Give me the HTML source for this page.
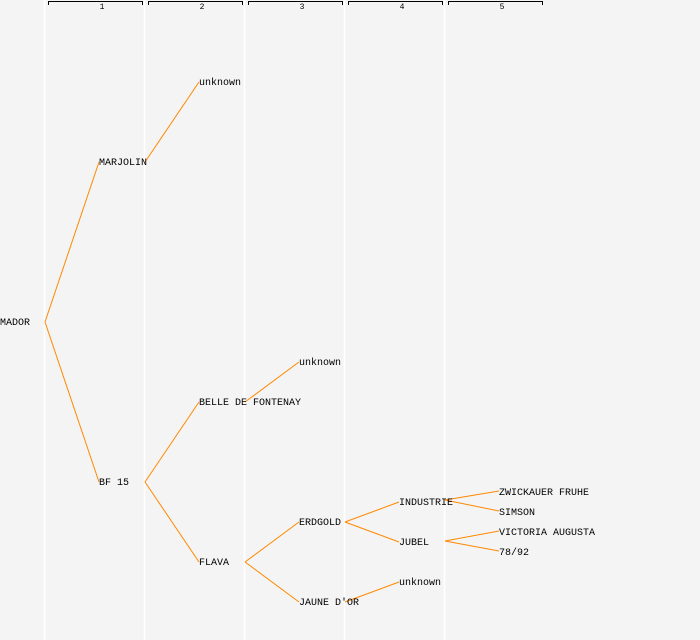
<!DOCTYPE html>
<html><head><style>html,body{margin:0;padding:0;background:#f4f4f4;}svg{display:block}</style></head>
<body>
<svg width="700" height="640" xmlns="http://www.w3.org/2000/svg" font-family="Liberation Mono, monospace" font-size="10">
<rect width="700" height="640" fill="#f4f4f4"/>
<g stroke="#ffffff" stroke-width="1.5">
<line x1="44.5" y1="0" x2="44.5" y2="640"/>
<line x1="144.5" y1="0" x2="144.5" y2="640"/>
<line x1="244.5" y1="0" x2="244.5" y2="640"/>
<line x1="344.5" y1="0" x2="344.5" y2="640"/>
<line x1="444.5" y1="0" x2="444.5" y2="640"/>
</g>
<g stroke="#000" fill="none" stroke-width="1">
<path d="M48.5,5 V1.5 H142.5 V5"/>
<path d="M148.5,5 V1.5 H242.5 V5"/>
<path d="M248.5,5 V1.5 H342.5 V5"/>
<path d="M348.5,5 V1.5 H442.5 V5"/>
<path d="M448.5,5 V1.5 H542.5 V5"/>
</g>
<g font-size="8" text-anchor="middle" fill="#000">
<text x="102" y="9">1</text><text x="202" y="9">2</text><text x="302" y="9">3</text><text x="402" y="9">4</text><text x="502" y="9">5</text>
</g>
<g stroke="#ff8800" stroke-width="1" fill="none">
<line x1="45" y1="322" x2="99" y2="162"/>
<line x1="45" y1="322" x2="99" y2="482"/>
<line x1="145" y1="162" x2="199" y2="82"/>
<line x1="145" y1="482" x2="199" y2="402"/>
<line x1="145" y1="482" x2="199" y2="562"/>
<line x1="245" y1="402" x2="299" y2="362"/>
<line x1="245" y1="562" x2="299" y2="522"/>
<line x1="245" y1="562" x2="299" y2="602"/>
<line x1="345" y1="522" x2="399" y2="502"/>
<line x1="345" y1="522" x2="399" y2="542"/>
<line x1="345" y1="602" x2="399" y2="582"/>
<line x1="445" y1="500" x2="499" y2="491"/>
<line x1="445" y1="500" x2="499" y2="511"/>
<line x1="445" y1="541" x2="499" y2="531"/>
<line x1="445" y1="541" x2="499" y2="551"/>
</g>
<g fill="#000">
<text x="0" y="325">MADOR</text>
<text x="99" y="165">MARJOLIN</text>
<text x="99" y="485">BF 15</text>
<text x="199" y="85">unknown</text>
<text x="199" y="405">BELLE DE FONTENAY</text>
<text x="199" y="565">FLAVA</text>
<text x="299" y="365">unknown</text>
<text x="299" y="525">ERDGOLD</text>
<text x="299" y="605">JAUNE D'OR</text>
<text x="399" y="505">INDUSTRIE</text>
<text x="399" y="545">JUBEL</text>
<text x="399" y="585">unknown</text>
<text x="499" y="495">ZWICKAUER FRUHE</text>
<text x="499" y="515">SIMSON</text>
<text x="499" y="535">VICTORIA AUGUSTA</text>
<text x="499" y="555">78/92</text>
</g>
</svg>
</body></html>
